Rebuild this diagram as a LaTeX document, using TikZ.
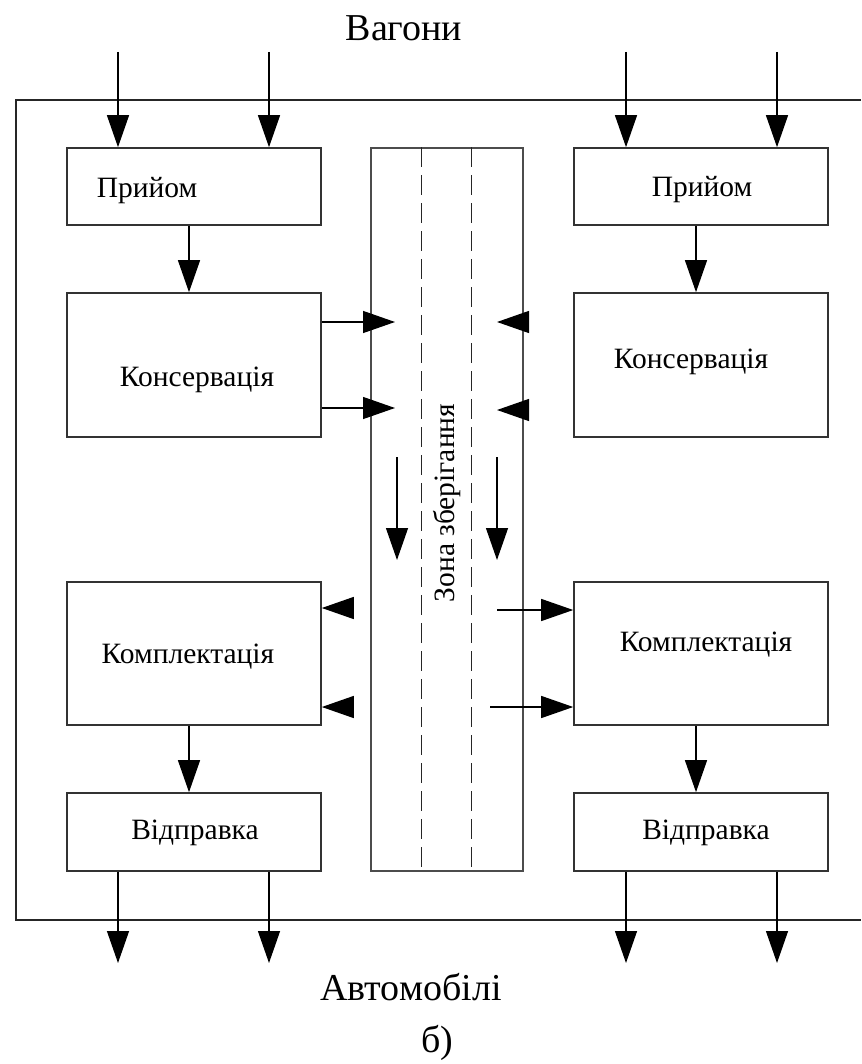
\documentclass[tikz,border=0pt]{standalone}
\usepackage{fontspec}
\setmainfont{Liberation Serif}
\usetikzlibrary{arrows.meta}
\tikzset{
  box/.style={draw=black!80, line width=1.6pt, minimum width=254pt, inner sep=0pt},
  lbl/.style={font=\fontsize{29.5}{32}\selectfont, inner sep=0pt},
  big/.style={font=\fontsize{38}{42}\selectfont, inner sep=0pt},
  arr/.style={line width=1.3pt, -{Triangle[length=32pt,width=22pt]}},
  frame/.style={line width=1.6pt, draw=black!85},
  dline/.style={line width=1.3pt, draw=black!85, dash pattern=on 20pt off 8pt}
}
\begin{document}
\begin{tikzpicture}[x=1pt,y=-1pt]
\useasboundingbox (0,0) rectangle (861,1064);
% outer frame (open to the right)
\draw[frame] (861,100) -- (16,100) -- (16,920) -- (861,920);
% boxes
\node[box, minimum height=77pt]  (pL) at (194,186.5) {};
\node[box, minimum height=77pt]  (pR) at (701,186.5) {};
\node[box, minimum height=144pt] (kL) at (194,365) {};
\node[box, minimum height=144pt] (kR) at (701,365) {};
\node[box, minimum height=143pt] (mL) at (194,653.5) {};
\node[box, minimum height=143pt] (mR) at (701,653.5) {};
\node[box, minimum height=78pt]  (vL) at (194,832) {};
\node[box, minimum height=78pt]  (vR) at (701,832) {};
\node[draw=black!70, line width=1.6pt, minimum width=152pt, minimum height=723pt, inner sep=0pt] (st) at (447,509.5) {};
\draw[dline] ([xshift=-25.5pt]st.north) -- ([xshift=-25.5pt]st.south);
\draw[dline] ([xshift=24.5pt]st.north) -- ([xshift=24.5pt]st.south);
% texts
\node[lbl] (tpL) at (147,191) {Прийом};
\node[lbl] (tpR) at (702,190) {Прийом};
\node[lbl] (tkL) at (197,380) {Консервація};
\node[lbl] (tkR) at (691,362) {Консервація};
\node[lbl] (tmL) at (188,657) {Комплектація};
\node[lbl] (tmR) at (706,645) {Комплектація};
\node[lbl] (tvL) at (195,833) {Відправка};
\node[lbl] (tvR) at (706,833) {Відправка};
\node[lbl, rotate=90] (tst) at (447,503) {Зона зберігання};
\node[big] (vag) at (404,28) {Вагони};
\node[big] (avt) at (411,987) {Автомобілі};
\node[big] (bb) at (437,1043) {б)};
% incoming arrows
\coordinate (i1) at (118,52);
\coordinate (i2) at (269,52);
\coordinate (i3) at (626,52);
\coordinate (i4) at (777,52);
\draw[arr] (i1) -- (i1 |- pL.north);
\draw[arr] (i2) -- (i2 |- pL.north);
\draw[arr] (i3) -- (i3 |- pR.north);
\draw[arr] (i4) -- (i4 |- pR.north);
% outgoing arrows
\coordinate (o1) at (118,963);
\coordinate (o2) at (269,963);
\coordinate (o3) at (626,963);
\coordinate (o4) at (777,963);
\draw[arr] (o1 |- vL.south) -- (o1);
\draw[arr] (o2 |- vL.south) -- (o2);
\draw[arr] (o3 |- vR.south) -- (o3);
\draw[arr] (o4 |- vR.south) -- (o4);
% vertical flows
\draw[arr] ([xshift=-5pt]pL.south) -- ([xshift=-5pt]kL.north);
\draw[arr] ([xshift=-5pt]pR.south) -- ([xshift=-5pt]kR.north);
\draw[arr] ([xshift=-5pt]mL.south) -- ([xshift=-5pt]vL.north);
\draw[arr] ([xshift=-5pt]mR.south) -- ([xshift=-5pt]vR.north);
% left conservation -> storage
\coordinate (a1) at (395,322);
\coordinate (a2) at (395,408);
\draw[arr] (kL.east |- a1) -- (a1);
\draw[arr] (kL.east |- a2) -- (a2);
% right side heads into storage
\coordinate (b1s) at (528,322); \coordinate (b1) at (497,322);
\coordinate (b2s) at (528,410); \coordinate (b2) at (497,410);
\draw[arr] (b1s) -- (b1);
\draw[arr] (b2s) -- (b2);
% down arrows in storage
\coordinate (d1s) at (397,457); \coordinate (d1) at (397,560);
\coordinate (d2s) at (497,457); \coordinate (d2) at (497,560);
\draw[arr] (d1s) -- (d1);
\draw[arr] (d2s) -- (d2);
% heads into left komplektatsiya
\coordinate (c1) at (352,608);
\coordinate (c2) at (352,707);
\draw[arr] (c1) -- (c1 -| mL.east);
\draw[arr] (c2) -- (c2 -| mL.east);
% storage -> right komplektatsiya
\coordinate (e1) at (497,610);
\coordinate (e2) at (490,707);
\draw[arr] (e1) -- (e1 -| mR.west);
\draw[arr] (e2) -- (e2 -| mR.west);
\end{tikzpicture}
\end{document}
